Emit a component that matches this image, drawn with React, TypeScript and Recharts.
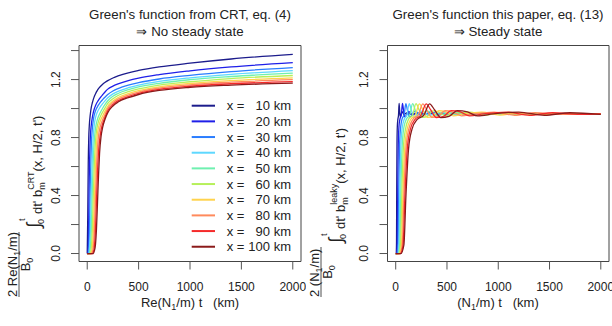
import { LineChart, Line, XAxis, YAxis, ReferenceArea } from "recharts"

const font = "'Liberation Sans', Arial, Helvetica, sans-serif"

// distance of each curve (km) and its colour
const distances = [10, 20, 30, 40, 50, 60, 70, 80, 90, 100]
const colors = [
  "#1c1c8c", "#1f1fe8", "#2a7dff", "#5ed8ff", "#6ff0b0",
  "#b6f05a", "#ffd34d", "#ff8a5c", "#f52a2a", "#8b1a1a",
]

// left panel: CRT Green's function, shared time grid
const tCrt = [0, 5, 10, 15, 20, 30, 40, 50, 60, 70, 80, 90, 100, 110, 120, 135, 150, 175, 200, 250, 300, 400, 500, 700, 1000, 1400, 2000]
const crt10 = [0, .25, .62, .80, .88, .96, 1.01, 1.04, 1.065, 1.085, 1.10, 1.115, 1.127, 1.137, 1.146, 1.157, 1.167, 1.181, 1.193, 1.211, 1.225, 1.247, 1.263, 1.287, 1.313, 1.342, 1.374]
const crt20 = [0, 0, .04, .25, .52, .80, .89, .94, .975, 1.0, 1.02, 1.035, 1.047, 1.058, 1.068, 1.082, 1.095, 1.116, 1.134, 1.155, 1.170, 1.193, 1.210, 1.234, 1.260, 1.287, 1.317]
const crt30 = [0, 0, 0, .03, .12, .48, .75, .865, .925, .96, .983, 1.0, 1.013, 1.025, 1.036, 1.05, 1.062, 1.080, 1.097, 1.121, 1.138, 1.162, 1.179, 1.204, 1.229, 1.255, 1.283]
const crt40 = [0, 0, 0, 0, .02, .14, .45, .67, .82, .895, .935, .96, .978, .992, 1.004, 1.02, 1.034, 1.055, 1.074, 1.101, 1.119, 1.144, 1.162, 1.187, 1.212, 1.236, 1.262]
const crt50 = [0, 0, 0, 0, 0, .04, .17, .45, .66, .79, .86, .90, .927, .947, .963, .983, 1.002, 1.03, 1.054, 1.085, 1.104, 1.13, 1.149, 1.174, 1.199, 1.221, 1.245]
const crt60 = [0, 0, 0, 0, 0, 0, .04, .17, .42, .63, .77, .845, .885, .912, .932, .956, .976, 1.007, 1.035, 1.068, 1.09, 1.116, 1.135, 1.162, 1.185, 1.207, 1.228]
const crt70 = [0, 0, 0, 0, 0, 0, .01, .05, .17, .40, .61, .75, .83, .87, .898, .927, .949, .984, 1.016, 1.053, 1.076, 1.103, 1.123, 1.15, 1.173, 1.193, 1.212]
const crt80 = [0, 0, 0, 0, 0, 0, 0, .01, .05, .17, .38, .59, .73, .81, .855, .895, .922, .963, 1.001, 1.041, 1.065, 1.093, 1.114, 1.141, 1.164, 1.182, 1.199]
const crt90 = [0, 0, 0, 0, 0, 0, 0, 0, .01, .05, .16, .36, .56, .70, .78, .855, .895, .943, .985, 1.028, 1.054, 1.083, 1.104, 1.132, 1.154, 1.171, 1.186]
const crt100 = [0, 0, 0, 0, 0, 0, 0, 0, 0, .02, .06, .17, .35, .54, .69, .81, .87, .93, .972, 1.018, 1.045, 1.075, 1.097, 1.125, 1.147, 1.162, 1.175]
const crtSeries = [crt10, crt20, crt30, crt40, crt50, crt60, crt70, crt80, crt90, crt100]

// right panel: leaky Green's function, one time list per curve
const tLeaky10 = [0, 5, 8, 10, 12.5, 16, 21, 27.5, 33, 38, 44, 52, 60, 70, 80, 95, 120, 145, 170, 200, 2000]
const tLeaky20 = [0, 10, 16, 20, 25, 32, 42, 55, 66, 76, 88, 104, 120, 140, 160, 190, 240, 290, 340, 400, 2000]
const tLeaky30 = [0, 15, 24, 30, 37.5, 48, 63, 82.5, 99, 114, 132, 156, 180, 210, 240, 285, 360, 435, 510, 600, 2000]
const tLeaky40 = [0, 20, 32, 40, 50, 64, 84, 110, 132, 152, 176, 208, 240, 280, 320, 380, 480, 580, 680, 800, 2000]
const tLeaky50 = [0, 25, 40, 50, 62.5, 80, 105, 137.5, 165, 190, 220, 260, 300, 350, 400, 475, 600, 725, 850, 1000, 2000]
const tLeaky60 = [0, 30, 48, 60, 75, 96, 126, 165, 198, 228, 264, 312, 360, 420, 480, 570, 720, 870, 1020, 1200, 2000]
const tLeaky70 = [0, 35, 56, 70, 87.5, 112, 147, 192.5, 231, 266, 308, 364, 420, 490, 560, 665, 840, 1015, 1190, 1400, 2000]
const tLeaky80 = [0, 40, 64, 80, 100, 128, 168, 220, 264, 304, 352, 416, 480, 560, 640, 760, 960, 1160, 1360, 1600, 2000]
const tLeaky90 = [0, 45, 72, 90, 112.5, 144, 189, 247.5, 297, 342, 396, 468, 540, 630, 720, 855, 1080, 1305, 1530, 1800, 2000]
const tLeaky100 = [0, 50, 80, 100, 125, 160, 210, 275, 330, 380, 440, 520, 600, 700, 800, 950, 1200, 1450, 1700, 2000]

const leaky10 = [0, 0, .08, .45, .76, .88, .925, .955, 1.035, .99, .945, .955, .978, .972, .957, .965, .971, .960, .967, .965, .965]
const leaky20 = [0, 0, .08, .44, .75, .88, .930, .958, 1.035, .99, .943, .953, .980, .973, .955, .964, .972, .959, .967, .964, .965]
const leaky30 = [0, 0, .07, .43, .74, .87, .930, .958, 1.034, .99, .942, .951, .981, .974, .954, .964, .973, .958, .968, .963, .965]
const leaky40 = [0, 0, .07, .43, .74, .87, .928, .957, 1.034, .99, .941, .950, .982, .975, .953, .963, .974, .957, .969, .962, .965]
const leaky50 = [0, 0, .07, .42, .73, .87, .928, .957, 1.034, .99, .940, .949, .983, .975, .952, .963, .974, .956, .970, .961, .965]
const leaky60 = [0, 0, .07, .42, .73, .86, .927, .956, 1.034, .99, .940, .948, .984, .976, .951, .963, .975, .955, .970, .961, .965]
const leaky70 = [0, 0, .06, .41, .72, .86, .926, .956, 1.033, .99, .939, .948, .985, .976, .950, .963, .975, .955, .970, .960, .964]
const leaky80 = [0, 0, .06, .41, .72, .86, .926, .955, 1.033, .99, .939, .947, .985, .976, .950, .963, .976, .954, .971, .960, .964]
const leaky90 = [0, 0, .06, .40, .72, .86, .925, .955, 1.033, .99, .938, .947, .986, .977, .949, .963, .976, .954, .971, .960, .964]
const leaky100 = [0, 0, .06, .40, .72, .86, .925, .955, 1.033, .99, .938, .946, .986, .977, .949, .963, .976, .954, .971, .960]

const tLeaky = [tLeaky10, tLeaky20, tLeaky30, tLeaky40, tLeaky50, tLeaky60, tLeaky70, tLeaky80, tLeaky90, tLeaky100]
const leakySeries = [leaky10, leaky20, leaky30, leaky40, leaky50, leaky60, leaky70, leaky80, leaky90, leaky100]

const xTicks = [0, 500, 1000, 1500, 2000]
const yTicks = [0, 0.2, 0.4, 0.6, 0.8, 1.0, 1.2, 1.4]
const yLabelled = [0, 0.4, 0.8, 1.2]

const crtRows = tCrt.map((t, i) => {
  const row: Record<string, number> = { t }
  crtSeries.forEach((s, k) => (row["x" + distances[k]] = s[i]))
  return row
})
const leakyRows = leakySeries.map((s, k) => tLeaky[k].map((t, i) => ({ t, v: s[i] })))

const xDomain = [-80, 2080]
const yDomain = [-0.055, 1.435]

function YTick(props: any) {
  const { x, y, payload } = props
  const v = payload.value
  if (!yLabelled.some((l) => Math.abs(l - v) < 1e-6)) return null
  return (
    <text x={x} y={y} transform={`rotate(-90 ${x} ${y})`} textAnchor="middle"
      fontSize={12} fill="#222" fontFamily={font}>
      {v.toFixed(1)}
    </text>
  )
}

function Panel({ left, children, data }: any) {
  return (
    <div style={{ position: "absolute", left, top: 0 }}>
      <LineChart width={306} height={326} data={data}
        margin={{ top: 45.5, right: left === 0 ? 5 : 3, bottom: 0, left: 0 }}>
        <XAxis type="number" dataKey="t" domain={xDomain} ticks={xTicks} allowDataOverflow
          height={64.5} axisLine={false} tickSize={8} tickMargin={12.5}
          tickLine={{ stroke: "#555" }}
          tick={{ fontSize: 12, fill: "#222", fontFamily: font }} interval={0} />
        <YAxis type="number" domain={yDomain} ticks={yTicks} allowDataOverflow
          width={left === 0 ? 79 : 81.5} axisLine={false} tickSize={8} tickMargin={11}
          tickLine={{ stroke: "#555" }} tick={<YTick />} interval={0} />
        {children}
        <ReferenceArea x1={xDomain[0]} x2={xDomain[1]} y1={yDomain[0]} y2={yDomain[1]}
          fill="none" fillOpacity={0} stroke="#444" strokeWidth={1} />
      </LineChart>
    </div>
  )
}

export default function App() {
  const legendTop = 105.7
  const legendStep = 15.67
  return (
    <div style={{ position: "absolute", left: 0, top: 0, width: 612, height: 326, background: "#fff", overflow: "hidden" }}>
      <Panel left={0} data={crtRows}>
        {distances.map((d, k) => (
          <Line key={d} dataKey={"x" + d} type="monotone" stroke={colors[k]} strokeWidth={1.3}
            dot={false} isAnimationActive={false} />
        ))}
      </Panel>
      <Panel left={306}>
        {distances.map((d, k) => (
          <Line key={d} data={leakyRows[k]} dataKey="v" type="monotone" stroke={colors[k]}
            strokeWidth={1.3} dot={false} isAnimationActive={false} />
        ))}
      </Panel>
      <svg width={612} height={326} style={{ position: "absolute", left: 0, top: 0, pointerEvents: "none" }}
        fontFamily={font} fill="#222">
        <text x={190} y={19} textAnchor="middle" fontSize={13.3}>Green's function from CRT, eq. (4)</text>
        <text x={190} y={35.5} textAnchor="middle" fontSize={13.3}>⇒ No steady state</text>
        <text x={498} y={19} textAnchor="middle" fontSize={13.3}>Green's function this paper, eq. (13)</text>
        <text x={498} y={35.5} textAnchor="middle" fontSize={13.3}>⇒ Steady state</text>

        <text x={190} y={307} textAnchor="middle" fontSize={13} xmlSpace="preserve">
          Re(N<tspan fontSize={9} dy={3}>1</tspan><tspan dy={-3}>/m) t   (km)</tspan>
        </text>
        <text x={498} y={307} textAnchor="middle" fontSize={13} xmlSpace="preserve">
          (N<tspan fontSize={9} dy={3}>1</tspan><tspan dy={-3}>/m) t   (km)</tspan>
        </text>

        {/* left y label */}
        <g transform="translate(0 297) rotate(-90)" fontSize={13}>
          <text x={0} y={16.5}>2 Re(N<tspan fontSize={9} dy={3}>1</tspan><tspan dy={-3}>/m)</tspan></text>
          <line x1={0} x2={65} y1={19} y2={19} stroke="#222" strokeWidth={0.8} />
          <text x={32.5} y={30} textAnchor="middle">B<tspan fontSize={9} dy={3}>0</tspan></text>
          <text x={69} y={40} fontSize={19}>∫</text>
          <text x={76} y={25} fontSize={9}>t</text>
          <text x={73} y={44} fontSize={9}>0</text>
          <text x={83} y={42}>
            dt' b<tspan fontSize={9} dy={3}>m</tspan>
            <tspan fontSize={9} dx={-7.5} dy={-11}>CRT</tspan>
            <tspan dy={8}>(x, H/2, t')</tspan>
          </text>
        </g>

        {/* right y label */}
        <g transform="translate(306 297) rotate(-90)" fontSize={13}>
          <text x={0} y={12.5}>2 (N<tspan fontSize={9} dy={3}>1</tspan><tspan dy={-3}>/m)</tspan></text>
          <line x1={0} x2={50} y1={15} y2={15} stroke="#222" strokeWidth={0.8} />
          <text x={25} y={26} textAnchor="middle">B<tspan fontSize={9} dy={3}>0</tspan></text>
          <text x={54} y={36} fontSize={19}>∫</text>
          <text x={61} y={21} fontSize={9}>t</text>
          <text x={58} y={40} fontSize={9}>0</text>
          <text x={68} y={39}>
            dt' b<tspan fontSize={9} dy={3}>m</tspan>
            <tspan fontSize={9} dx={-7.5} dy={-11}>leaky</tspan>
            <tspan dy={8}>(x, H/2, t')</tspan>
          </text>
        </g>

        {/* legend */}
        {distances.map((d, k) => {
          const y = legendTop + k * legendStep
          return (
            <g key={d}>
              <line x1={191.7} x2={215} y1={y} y2={y} stroke={colors[k]} strokeWidth={2} />
              <text x={226.7} y={y + 4.6} fontSize={13}>x =</text>
              <text x={291} y={y + 4.6} fontSize={13} textAnchor="end">{d} km</text>
            </g>
          )
        })}
      </svg>
    </div>
  )
}
